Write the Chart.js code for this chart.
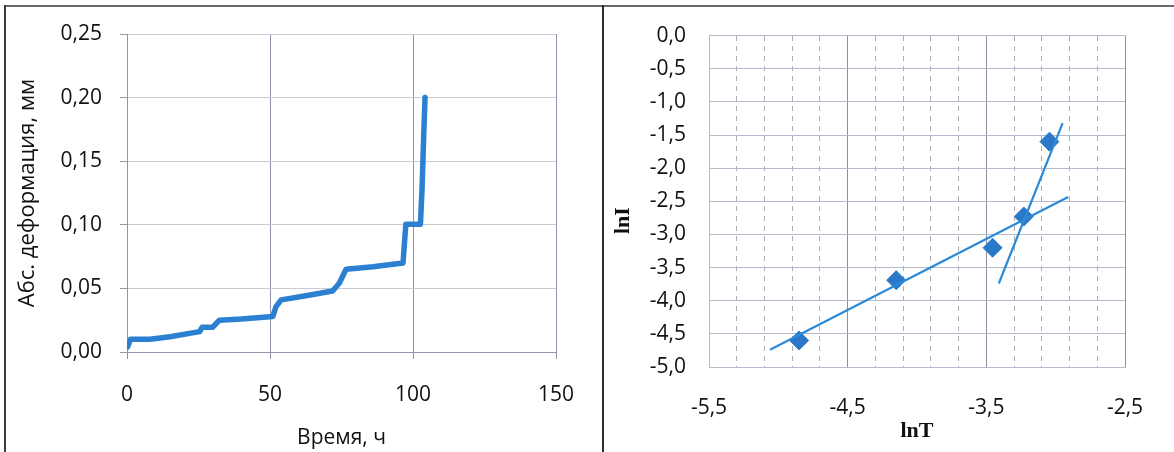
<!DOCTYPE html>
<html lang="ru">
<head>
<meta charset="utf-8">
<title>Деформация и lnI–lnT</title>
<script src="https://cdn.jsdelivr.net/npm/chart.js@4.4.1/dist/chart.umd.min.js"></script>
<style>
  html, body { margin: 0; padding: 0; background: #fff; }
  #page { position: relative; width: 1174px; height: 452px; overflow: hidden; background: #fff; }
  canvas { position: absolute; top: 0; }
  #leftChart { left: 0; }
  #rightChart { left: 604px; }
  .rule { position: absolute; }
  #ruleTop { left: 4px; top: 5px; width: 1170px; height: 2px; background: #6a6a6a; }
  #ruleLeft { left: 4px; top: 5px; width: 2px; height: 447px; background: #3c3c3c; }
  #ruleMid { left: 602px; top: 5px; width: 2px; height: 447px; background: #2e2e2e; }
</style>
</head>
<body>
<div id="page">
  <canvas id="leftChart" width="603" height="452"></canvas>
  <canvas id="rightChart" width="570" height="452"></canvas>
  <div class="rule" id="ruleTop"></div>
  <div class="rule" id="ruleLeft"></div>
  <div class="rule" id="ruleMid"></div>
</div>
<script>
// ---- creep curve: absolute deformation vs time ----
const timeHours = [0.2, 1.2, 8, 15, 25.4, 26.3, 30, 32.3, 40, 51, 52.1, 53.9, 62, 71.9, 74.2, 76.6, 86, 96.5, 97.5, 102.6, 103.2, 103.6, 104.2];
const deformationMm = [0.004, 0.010, 0.010, 0.012, 0.016, 0.0195, 0.0195, 0.025, 0.026, 0.028, 0.0356, 0.041, 0.044, 0.048, 0.054, 0.065, 0.067, 0.070, 0.1005, 0.1005, 0.13, 0.16, 0.20];
const timeTicks = [0, 50, 100, 150];
const timeTickLabels = ['0', '50', '100', '150'];
const deformTicks = [0, 0.05, 0.10, 0.15, 0.20, 0.25];
const deformTickLabels = ['0,00', '0,05', '0,10', '0,15', '0,20', '0,25'];

// ---- log-log plot: lnI vs lnT ----
const lnT = [-4.85, -4.15, -3.455, -3.23, -3.045];
const lnI = [-4.6, -3.69, -3.2, -2.73, -1.6];
const trendLowX = [-5.06, -2.91];
const trendLowY = [-4.74, -2.435];
const trendHighX = [-3.41, -2.95];
const trendHighY = [-3.74, -1.32];
const lnTTicks = [-5.5, -4.5, -3.5, -2.5];
const lnTTickLabels = ['-5,5', '-4,5', '-3,5', '-2,5'];
const lnITicks = [0, -0.5, -1, -1.5, -2, -2.5, -3, -3.5, -4, -4.5, -5];
const lnITickLabels = ['0,0', '-0,5', '-1,0', '-1,5', '-2,0', '-2,5', '-3,0', '-3,5', '-4,0', '-4,5', '-5,0'];

const toPoints = (xs, ys) => xs.map((x, i) => ({ x: x, y: ys[i] }));
const fixedTicks = list => axis => { axis.ticks = list.map(v => ({ value: v })); };

Chart.defaults.font.family = "'Open Sans', 'Liberation Sans', sans-serif";
Chart.defaults.color = '#111111';
Chart.defaults.animation = false;

const tickFont = { size: 21 };

new Chart(document.getElementById('leftChart'), {
  type: 'scatter',
  data: {
    datasets: [{
      data: toPoints(timeHours, deformationMm),
      showLine: true,
      borderColor: '#2b80d2',
      borderWidth: 5.5,
      borderJoinStyle: 'round',
      borderCapStyle: 'round',
      pointRadius: 0,
      tension: 0
    }]
  },
  options: {
    responsive: false,
    animation: false,
    layout: { padding: { left: 0, top: 34, right: 47, bottom: 0 } },
    plugins: { legend: { display: false }, tooltip: { enabled: false } },
    scales: {
      x: {
        type: 'linear', min: 0, max: 150,
        afterBuildTicks: fixedTicks(timeTicks),
        afterFit: a => { a.height = 100; },
        grid: { color: '#9292aa', lineWidth: 1, tickLength: 7, drawTicks: true },
        border: { color: '#9292aa', width: 1 },
        ticks: { font: tickFont, padding: 23, autoSkip: false, maxRotation: 0,
                 callback: (v, i) => timeTickLabels[i] },
        title: { display: true, text: 'Время, ч', font: { size: 21 }, padding: { top: 0, bottom: 1 } }
      },
      y: {
        type: 'linear', min: 0, max: 0.25,
        afterBuildTicks: fixedTicks(deformTicks),
        afterFit: a => { a.width = 127; },
        grid: { color: '#cacad6', lineWidth: 1, tickLength: 7, drawTicks: true, tickColor: '#9a9aae' },
        border: { color: '#9292aa', width: 1 },
        ticks: { font: tickFont, padding: 18, autoSkip: false,
                 callback: (v, i) => deformTickLabels[i] },
        title: { display: true, text: 'Абс. деформация, мм', font: { size: 22 }, padding: { top: 15, bottom: 0 } }
      }
    }
  }
});

// minor lnT gridlines every 0.2 between the labelled ones
const lnTMinor = [];
for (let k = 0; k <= 15; k++) lnTMinor.push(Math.round((-5.5 + k * 0.2) * 10) / 10);
const isMajorLnT = v => lnTTicks.some(m => Math.abs(m - v) < 1e-6);

new Chart(document.getElementById('rightChart'), {
  type: 'scatter',
  data: {
    datasets: [
      {
        data: toPoints(trendLowX, trendLowY),
        showLine: true, borderColor: '#2b8ad8', borderWidth: 2.2, pointRadius: 0, tension: 0
      },
      {
        data: toPoints(trendHighX, trendHighY),
        showLine: true, borderColor: '#2b8ad8', borderWidth: 2.2, pointRadius: 0, tension: 0
      },
      {
        data: toPoints(lnT, lnI),
        showLine: false,
        pointStyle: 'rectRot',
        pointRadius: 9.5,
        pointBackgroundColor: '#2c78c8',
        pointBorderColor: '#2c78c8',
        pointBorderWidth: 1
      }
    ]
  },
  options: {
    responsive: false,
    animation: false,
    layout: { padding: { left: 0, top: 27, right: 49, bottom: 0 } },
    plugins: { legend: { display: false }, tooltip: { enabled: false } },
    scales: {
      x: {
        type: 'linear', position: 'bottom', min: -5.5, max: -2.5,
        afterBuildTicks: fixedTicks(lnTTicks),
        afterFit: a => { a.height = 85; },
        grid: { color: '#8e8ea4', lineWidth: 1, drawTicks: false },
        border: { color: '#b9b9cc', width: 1 },
        ticks: { font: tickFont, padding: 28, autoSkip: false, maxRotation: 0,
                 callback: (v, i) => lnTTickLabels[i] },
        title: { display: true, text: 'lnT', font: { family: "'Liberation Serif', 'DejaVu Serif', serif", size: 22, weight: 'bold' },
                 padding: { top: 0, bottom: 7 } }
      },
      xMinor: {
        type: 'linear', position: 'top', min: -5.5, max: -2.5,
        afterBuildTicks: fixedTicks(lnTMinor),
        afterFit: a => { a.height = 0; },
        grid: { color: ctx => (ctx.tick && isMajorLnT(ctx.tick.value)) ? 'rgba(0,0,0,0)' : '#acacb6',
                lineWidth: 1, drawTicks: false },
        border: { display: false, dash: [5, 5] },
        ticks: { display: false }
      },
      y: {
        type: 'linear', min: -5, max: 0,
        afterBuildTicks: fixedTicks(lnITicks),
        afterFit: a => { a.width = 105; },
        grid: { color: '#b9b9cc', lineWidth: 1, drawTicks: false },
        border: { color: '#b9b9cc', width: 1 },
        ticks: { font: tickFont, padding: 23, autoSkip: false,
                 callback: (v, i) => lnITickLabels[i] },
        title: { display: true, text: 'lnI       ', font: { family: "'Liberation Serif', 'DejaVu Serif', serif", size: 22, weight: 'bold' },
                 padding: { top: 6, bottom: 0 } }
      }
    }
  }
});
</script>
</body>
</html>
